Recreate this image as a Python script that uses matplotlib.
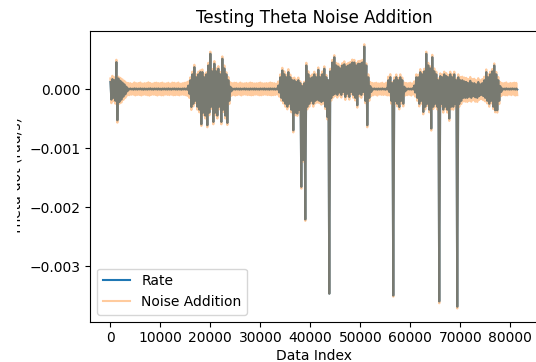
#!/usr/bin/env python
import numpy as np
import matplotlib
matplotlib.use('Agg')
import matplotlib.pyplot as plt
from matplotlib.transforms import Bbox

# the signal is far denser than the pixels, so it is kept as an upper and a
# lower reading per bin of 400 indices (micro rad/s)
bin_width = 400

rate_high = [
    # first burst
    120, 170, 150, 457, 180, 140, 110, 80, 40,
    # quiet
    8, 10, 6, 12, 9, 7, 11, 8, 10, 6, 9, 12, 7, 10, 8, 11, 6, 9, 10, 8,
    12, 7, 9, 11, 8, 10, 6, 9, 11, 8,
    # second burst
    60, 150, 250, 372, 200, 250, 288, 288, 200, 250,
    400, 599, 300, 430, 300, 345, 250, 514, 350, 250, 150, 40,
    # quiet
    9, 7, 11, 8, 10, 6, 12, 9, 7, 10, 8, 11, 9, 6, 10, 8, 12, 7, 9, 11, 8, 10, 7,
    # third burst
    60, 200, 316, 250, 200, 288, 200, 150, 150, 120,
    150, 100, 50, 100, 401, 250, 180, 200, 250, 200,
    327, 200, 250, 345, 200, 150, 300, 450, 540, 400,
    380, 350, 400, 420, 380, 400, 420, 450, 450, 400,
    430, 430, 450, 720, 400, 200, 50,
    # quiet
    9, 11, 7, 10, 8, 12, 6, 9,
    # spike
    150, 203, 100, 150, 203, 150, 200, 150, 40,
    # quiet
    8, 10, 7, 11,
    # fourth burst
    60, 200, 200, 288, 250, 300, 599, 400, 350, 541,
    300, 250, 150, 220, 200, 250, 220, 200, 250, 200,
    250, 150, 200, 150, 150, 130, 120, 100, 140, 100,
    100, 80, 120, 80, 100, 150, 288, 200, 250, 300,
    400, 250, 150, 50,
    # quiet
    10, 8, 12, 7, 9, 11, 8, 10,
]

rate_low = [
    -180, -150, -200, -530, -220, -180, -130, -90, -40,
    -9, -7, -11, -8, -10, -6, -9, -12, -8, -10, -7, -9, -11, -6, -10, -8, -12, -7, -9, -10,
    -8, -11, -6, -9, -10, -7, -12, -8, -9, -11,
    -80, -305, -250, -200, -300, -350, -597, -400, -450, -614,
    -400, -300, -558, -400, -450, -300, -558, -350, -450, -575, -200, -40,
    -8, -10, -7, -11, -9, -6, -10, -8, -12, -7, -9, -10, -8, -11, -6, -9, -10, -8, -12, -7, -9, -11, -8,
    -60, -150, -200, -250, -300, -250, -350, -700, -400, -416,
    -350, -1658, -1200, -2210, -300, -250, -200, -250, -200, -180,
    -200, -220, -200, -300, -474, -3470, -150, -100, -80, -100,
    -60, -100, -50, -135, -80, -135, -50, -100, -150, -276,
    -80, -100, -50, -200, -614, -150, -50,
    -10, -7, -11, -8, -9, -6, -12, -8,
    -50, -200, -3500, -200, -250, -305, -200, -250, -40,
    -9, -7, -10, -8,
    -60, -150, -250, -200, -389, -300, -250, -350, -670, -300,
    -250, -300, -3600, -250, -350, -300, -350, -501, -300, -300,
    -250, -3690, -250, -200, -150, -150, -150, -130, -150, -120,
    -140, -150, -120, -100, -120, -150, -200, -250, -200, -300,
    -360, -360, -200, -50,
    -8, -11, -7, -10, -9, -6, -10, -8,
]

# how far the noisy copy reaches past the clean rate in each bin (micro rad/s)
noise_reach = [
    60, 55, 50, 40, 30, 50, 55, 60, 70,
    95, 90, 85, 100, 90, 95, 100, 85, 90, 95, 105, 90, 85, 95, 100, 90, 95, 100, 85, 90,
    95, 85, 100, 95, 90, 100, 85, 90, 95, 105,
    70, 50, 45, 40, 50, 45, 30, 45, 50, 35,
    45, 35, 40, 45, 50, 45, 40, 40, 50, 35, 55, 75,
    90, 100, 95, 85, 100, 90, 85, 95, 90, 100, 95, 85, 90, 95, 100, 90, 85, 95, 90, 100, 95, 90, 85,
    70, 50, 45, 50, 45, 50, 45, 35, 45, 40,
    45, 30, 30, 25, 45, 50, 45, 50, 45, 50,
    40, 45, 50, 40, 40, 0, 45, 45, 35, 45,
    50, 45, 40, 50, 45, 45, 40, 50, 45, 40,
    45, 50, 45, 40, 35, 50, 70,
    95, 90, 100, 85, 90, 95, 85, 100,
    60, 50, 19, 50, 45, 40, 50, 45, 70,
    95, 90, 100, 85,
    70, 50, 45, 50, 40, 45, 35, 45, 35, 40,
    50, 45, 31, 45, 50, 45, 50, 40, 45, 50,
    45, 29, 50, 55, 60, 65, 70, 70, 65, 70,
    75, 70, 65, 70, 70, 60, 45, 50, 45, 40,
    35, 40, 55, 70,
    90, 95, 100, 85, 95, 90, 100, 95,
]

hi = np.array(rate_high) * 1e-6
lo = np.array(rate_low) * 1e-6
reach = np.array(noise_reach) * 1e-6

# the line visits the top then the bottom of every bin
n = len(hi)
data_index = np.arange(2 * n) * (bin_width // 2)
rate = np.empty(2 * n)
rate[0::2] = hi
rate[1::2] = lo
noisy = np.empty(2 * n)
noisy[0::2] = hi + reach
noisy[1::2] = lo - reach

fig = plt.figure(figsize=(5.36, 3.62), dpi=100)
ax = fig.add_axes([0.168, 0.1113, 0.835, 0.8031])
ax.plot(data_index, rate, label='Rate')
ax.plot(data_index, noisy, label='Noise Addition', alpha=0.4)
ax.set_title('Testing Theta Noise Addition')
ax.set_xlabel('Data Index', labelpad=2.5)
ax.set_ylabel('Theta-dot (rad/s)')
ax.legend(loc='lower left')

# the label is cut off on its left side in the original
ylab = ax.yaxis.label
ylab.set_clip_box(Bbox.from_extents(17, 0, 536, 362))
ylab.set_clip_on(True)

fig.savefig('out.png', dpi=100)
